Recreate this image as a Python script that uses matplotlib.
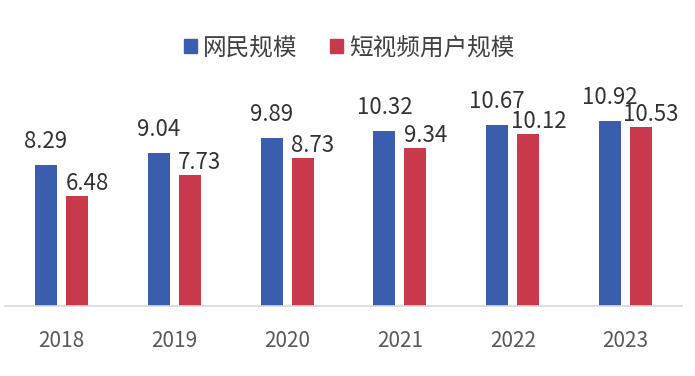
import matplotlib
matplotlib.use('Agg')
import matplotlib.pyplot as plt
import matplotlib.patches as mpatches
import numpy as np

plt.rcParams['font.family'] = ['Noto Sans CJK SC', 'DejaVu Sans']

years = ['2018', '2019', '2020', '2021', '2022', '2023']
netizens = [8.29, 9.04, 9.89, 10.32, 10.67, 10.92]
short_video = [6.48, 7.73, 8.73, 9.34, 10.12, 10.53]

blue = '#3b5dad'
red = '#c8394b'

fig = plt.figure(figsize=(6.95, 3.76), dpi=100)
ax = fig.add_axes([5 / 695, 70 / 376, 677 / 695, 216 / 376])

x = np.arange(len(years))
w = 0.195
off = 0.137
ax.bar(x - off, netizens, w, color=blue)
ax.bar(x + off, short_video, w, color=red)

# px -> data units (216 px for 12.74)
u = 12.74 / 216
for i in range(len(years)):
    ax.text(x[i] - off, netizens[i] + 17 * u, f'{netizens[i]:.2f}', ha='center', va='baseline',
            fontsize=16, color='#333333')
    ax.text(x[i] + off + 0.09, short_video[i] + 6 * u, f'{short_video[i]:.2f}', ha='center', va='baseline',
            fontsize=16, color='#333333')

ax.set_xlim(-0.5, 5.5)
ax.set_ylim(0, 12.74)
ax.set_xticks(x)
ax.set_xticklabels(years, fontsize=15, color='#595959')
ax.tick_params(axis='x', length=0, pad=17)
ax.set_yticks([])
for s in ['top', 'right', 'left']:
    ax.spines[s].set_visible(False)
ax.spines['bottom'].set_color('#d9d9d9')
ax.spines['bottom'].set_linewidth(1.2)

handles = [mpatches.Patch(color=blue, label='网民规模'),
           mpatches.Patch(color=red, label='短视频用户规模')]
fig.legend(handles=handles, loc='center', bbox_to_anchor=(0.502, 1 - 48 / 376), ncol=2, frameon=False,
           fontsize=17, handlelength=0.55, handleheight=0.55, handletextpad=0.25, columnspacing=1.4,
           labelcolor='#404040')

fig.savefig('out.png', dpi=100)
